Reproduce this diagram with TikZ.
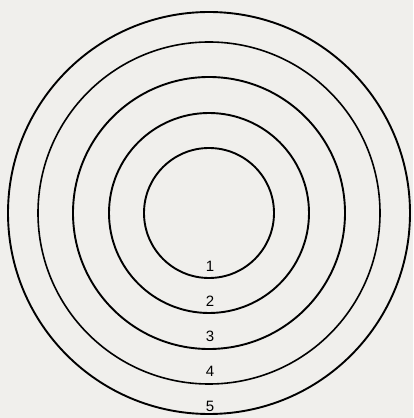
\documentclass[tikz,border=0pt]{standalone}
\usepackage{fontspec}
\setmainfont{Liberation Sans}
\definecolor{bg}{RGB}{240,239,236}
\begin{document}
\begin{tikzpicture}[x=1pt,y=1pt,
  ring/.style={draw=black,line width=1.9pt},
  lab/.style={font=\fontsize{15}{15}\selectfont,inner sep=0pt}]
\fill[bg] (0,0) rectangle (413,418);
\useasboundingbox (0,0) rectangle (413,418);
\coordinate (c) at (209,205);
\draw[ring] (c) circle (65);
\draw[ring] (c) circle (100);
\draw[ring] (c) circle (136);
\draw[ring,line width=1.6pt] (c) circle (171);
\draw[ring] (c) circle (201);
\node[lab] (l1) at (210,151.5) {1};
\node[lab] (l2) at (210,116.5) {2};
\node[lab] (l3) at (210,81.5) {3};
\node[lab] (l4) at (210,46.5) {4};
\node[lab] (l5) at (210,11.5) {5};
\end{tikzpicture}
\end{document}
